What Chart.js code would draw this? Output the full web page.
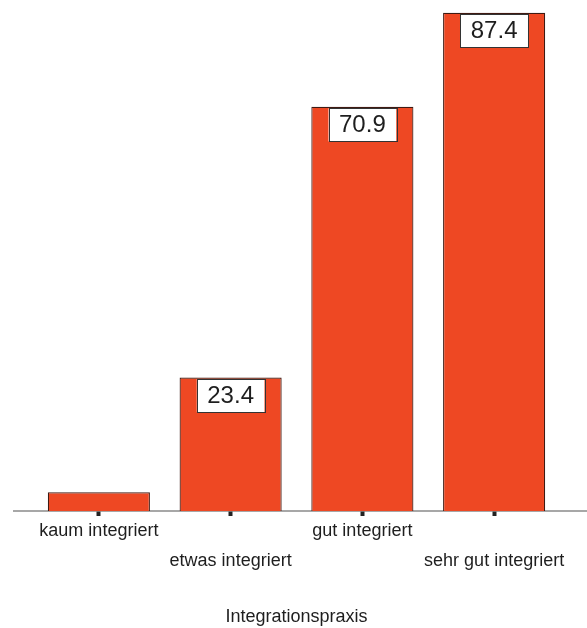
<!DOCTYPE html>
<html>
<head>
<meta charset="utf-8">
<script src="https://cdn.jsdelivr.net/npm/chart.js@4"></script>
<style>
  html, body { margin: 0; padding: 0; background: #fff; }
  #wrap { position: relative; width: 587px; height: 628px; }
</style>
</head>
<body>
<div id="wrap"><canvas id="myChart"></canvas></div>
<script>
var categories = ['kaum integriert', 'etwas integriert', 'gut integriert', 'sehr gut integriert'];
var values = [3.3, 23.4, 70.9, 87.4];
var axisTitle = 'Integrationspraxis';

var fontFamily = '"Liberation Sans", Arial, sans-serif';

// value boxes inside top of each bar + the long baseline
var boxLabels = {
  id: 'boxLabels',
  beforeDatasetsDraw: function (chart) {
    var c = chart.ctx;
    var y = chart.scales.y.getPixelForValue(0);
    c.save();
    c.strokeStyle = '#8a8a8a';
    c.lineWidth = 1.5;
    c.beginPath();
    c.moveTo(13, y);
    c.lineTo(chart.width, y);
    c.stroke();
    c.restore();
  },
  afterDatasetsDraw: function (chart) {
    var c = chart.ctx;
    var meta = chart.getDatasetMeta(0);
    c.save();
    c.font = '24px ' + fontFamily;
    c.textAlign = 'center';
    c.textBaseline = 'middle';
    meta.data.forEach(function (bar, i) {
      if (values[i] < 10) return;
      var txt = values[i].toFixed(1);
      var w = c.measureText(txt).width + 21;
      var h = 33;
      var top = bar.y + 1.5;
      c.fillStyle = '#fff';
      c.fillRect(bar.x - w / 2, top, w, h);
      c.strokeStyle = '#333';
      c.lineWidth = 1;
      c.strokeRect(Math.round(bar.x - w / 2) + 0.5, Math.round(top) + 0.5, Math.round(w), h);
      c.fillStyle = '#1e1e1e';
      c.fillText(txt, bar.x, top + h / 2 + 1);
    });
    c.restore();
  }
};

var ctx = document.getElementById('myChart');
var myChart = new Chart(ctx, {
  type: 'bar',
  data: {
    labels: categories,
    datasets: [
      {
        data: values,
        backgroundColor: '#EE4823',
        borderColor: '#3f1a12',
        borderWidth: 1.2,
        barPercentage: 0.775,
        categoryPercentage: 1
      }
    ]
  },
  options: {
    responsive: true,
    maintainAspectRatio: false,
    animation: false,
    layout: {
      padding: { left: 33, right: 27, top: 0, bottom: 0 }
    },
    plugins: {
      legend: { display: false },
      tooltip: { enabled: false }
    },
    scales: {
      x: {
        afterFit: function (scale) { scale.height = 117; },
        border: { display: false },
        grid: {
          offset: false,
          drawOnChartArea: false,
          drawTicks: true,
          tickLength: 5,
          tickWidth: 4,
          tickColor: '#222'
        },
        ticks: {
          padding: 0,
          maxRotation: 0,
          autoSkip: false,
          color: '#1e1e1e',
          font: { family: fontFamily, size: 18, lineHeight: 1.667 },
          callback: function (v, i) {
            return i % 2 ? ['', categories[i]] : [categories[i], ''];
          }
        },
        title: {
          display: true,
          text: axisTitle,
          color: '#1e1e1e',
          padding: 0,
          font: { family: fontFamily, size: 18 }
        }
      },
      y: {
        display: false,
        min: 0,
        max: 89.65
      }
    }
  },
  plugins: [boxLabels]
});
</script>
</body>
</html>
